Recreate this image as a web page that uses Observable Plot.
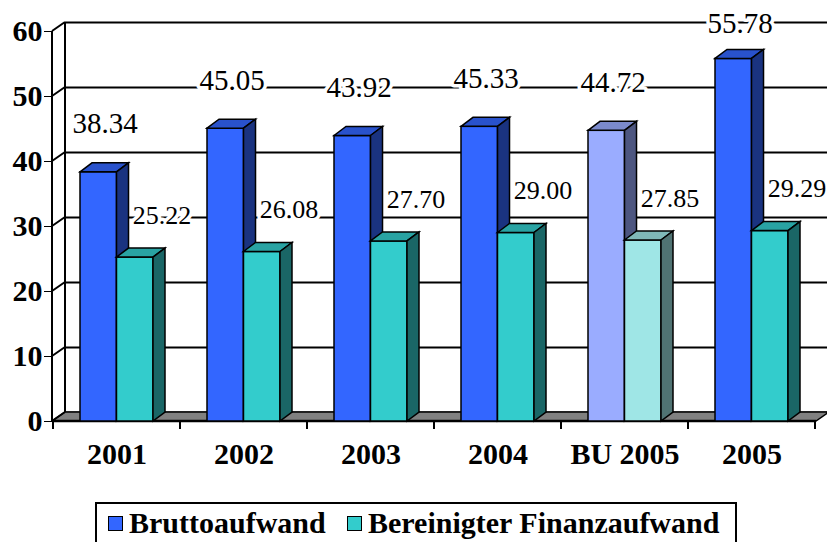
<!DOCTYPE html>
<html>
<head>
<meta charset="utf-8">
<script src="https://cdn.jsdelivr.net/npm/d3@7"></script>
<script src="https://cdn.jsdelivr.net/npm/@observablehq/plot@0.6"></script>
<style>
  html, body { margin: 0; padding: 0; background: #fff; }
  body { width: 827px; height: 542px; overflow: hidden; position: relative; font-family: "Liberation Serif", "DejaVu Serif", "Times New Roman", serif; }
  #chart { position: absolute; left: 0; top: 0; }
  #chart svg, #chart svg text { font-family: "Liberation Serif", "DejaVu Serif", "Times New Roman", serif !important; }
  #legend { position: absolute; left: 95px; top: 502px; width: 638px; height: 50px; border: 2px solid #000; background: #fff; box-sizing: content-box; }
  .sw { position: absolute; top: 12px; width: 13px; height: 13px; border: 1.5px solid #000; }
  .lt { position: absolute; top: 4px; font-weight: bold; font-size: 30px; line-height: 30px; white-space: nowrap; color: #000; font-family: "Liberation Serif", "DejaVu Serif", "Times New Roman", serif; }
</style>
</head>
<body>
<div id="chart"></div>
<div id="legend"></div>
<script>
// ---- data ----
const categories = ["2001", "2002", "2003", "2004", "BU 2005", "2005"];
const brutto     = [38.34, 45.05, 43.92, 45.33, 44.72, 55.78];
const bereinigt  = [25.22, 26.08, 27.70, 29.00, 27.85, 29.29];
const seriesNames = ["Bruttoaufwand", "Bereinigter Finanzaufwand"];
const yTicks = [0, 10, 20, 30, 40, 50, 60];
const budgetCategory = "BU 2005";

// ---- styling ----
const mainColors   = ["#3366ff", "#33cccc"];
const budgetColors = ["#9aacff", "#9fe6e6"];
const serif = "'Liberation Serif', 'DejaVu Serif', 'Times New Roman', serif";

const W = 827, H = 490;
const mL = 52, mR = 11, mT = 31, mB = 69;
const padInner = 0.427, padOuter = padInner / 2;
const step = (W - mL - mR) / categories.length;
const bw = step * (1 - padInner);
const depthX = 12, depthY = -9;      // bar depth
const wallX = 13, wallY = -9;        // wall depth

const rows = categories.map((c, i) => ({cat: c, brutto: brutto[i], bereinigt: bereinigt[i]}));

function shade(c, k) {
  const r = d3.rgb(c);
  return d3.rgb(r.r * k, r.g * k, r.b * k).formatHex();
}

const svgNS = "http://www.w3.org/2000/svg";
function poly(points, fill) {
  const p = document.createElementNS(svgNS, "polygon");
  p.setAttribute("points", points.map(d => d.join(",")).join(" "));
  p.setAttribute("fill", fill);
  return p;
}

function bar3d(index, scales, values, dimensions, context, next) {
  const g = next(index, scales, values, dimensions, context);
  for (const r of Array.from(g.querySelectorAll("rect"))) {
    const x = +r.getAttribute("x"), y = +r.getAttribute("y");
    const w = +r.getAttribute("width"), h = +r.getAttribute("height");
    const f = r.getAttribute("fill") || "#888";
    const top = poly([[x, y], [x + depthX, y + depthY], [x + w + depthX, y + depthY], [x + w, y]], shade(f, 0.8));
    const side = poly([[x + w, y], [x + w + depthX, y + depthY], [x + w + depthX, y + h + depthY], [x + w, y + h]], shade(f, 0.5));
    r.after(top, side);
  }
  return g;
}

function decor(index, scales, values, dimensions) {
  const {y, x} = scales;
  const g = d3.create("svg:g").attr("stroke", "black").attr("fill", "none");
  const y0 = y(0), yTop = y(yTicks[yTicks.length - 1]);
  const xL = dimensions.marginLeft, xR = dimensions.width - dimensions.marginRight;
  // floor
  g.append("polygon")
    .attr("points", [[xL, y0], [xR, y0], [xR + wallX, y0 + wallY], [xL + wallX, y0 + wallY]].map(d => d.join(",")).join(" "))
    .attr("fill", "#808080").attr("stroke-width", 1.5);
  // back wall left edge
  g.append("line").attr("x1", xL + wallX).attr("x2", xL + wallX)
    .attr("y1", y0 + wallY).attr("y2", yTop + wallY).attr("stroke-width", 2);
  // diagonal connectors
  for (const t of yTicks) {
    g.append("line").attr("x1", xL).attr("y1", y(t)).attr("x2", xL + wallX).attr("y2", y(t) + wallY).attr("stroke-width", 2);
  }
  // front axis
  g.append("line").attr("x1", xL).attr("x2", xL).attr("y1", y0 + 1).attr("y2", yTop).attr("stroke-width", 2);
  g.append("line").attr("x1", xL).attr("x2", xR).attr("y1", y0).attr("y2", y0).attr("stroke-width", 2.5);
  // category boundary ticks
  const stepPx = x(categories[1]) - x(categories[0]);
  const bwPx = x.bandwidth ? x.bandwidth() : bw;
  const bounds = categories.map(c => x(c) - (stepPx - bwPx) / 2);
  bounds.push(x(categories[categories.length - 1]) + bwPx + (stepPx - bwPx) / 2);
  for (const b of bounds) {
    g.append("line").attr("x1", b).attr("x2", b).attr("y1", y0).attr("y2", y0 + 8).attr("stroke-width", 2);
  }
  return g.node();
}

const fillFor = (k) => d => d.cat === budgetCategory ? budgetColors[k] : mainColors[k];

const chart = Plot.plot({
  width: W,
  height: H,
  marginLeft: mL,
  marginRight: mR,
  marginTop: mT,
  marginBottom: mB,
  style: {
    fontFamily: serif,
    fontSize: "30px",
    fontWeight: "bold",
    background: "white",
    color: "black",
    overflow: "visible"
  },
  x: {domain: categories, paddingInner: padInner, paddingOuter: padOuter, tickSize: 0, tickPadding: 21, label: null},
  y: {domain: [0, 60], ticks: yTicks, tickSize: 8, tickPadding: 2, tickFormat: d => String(d), label: null},
  color: {type: "identity"},
  marks: [
    Plot.ruleY(yTicks, {y: d => d, dx: wallX, dy: wallY, stroke: "black", strokeWidth: 2}),
    decor,
    Plot.barY(rows, {x: "cat", y: "brutto", fill: fillFor(0), stroke: "black", strokeWidth: 1.5, insetRight: bw / 2, render: bar3d}),
    Plot.barY(rows, {x: "cat", y: "bereinigt", fill: fillFor(1), stroke: "black", strokeWidth: 1.5, insetLeft: bw / 2, render: bar3d}),
    Plot.text(rows, {x: "cat", y: d => Math.min(d.brutto + 7.4, 61.2), text: d => d.brutto.toFixed(2), dx: -12,
      fontSize: 29, fontWeight: "normal", fontFamily: serif, fill: "black", stroke: "white", strokeWidth: 7, paintOrder: "stroke"}),
    Plot.text(rows, {x: "cat", y: d => d.bereinigt + 6.5, text: d => d.bereinigt.toFixed(2), dx: 45,
      fontSize: 26, fontWeight: "normal", fontFamily: serif, fill: "black", stroke: "white", strokeWidth: 7, paintOrder: "stroke"})
  ]
});
document.getElementById("chart").appendChild(chart);

// legend
const legend = document.getElementById("legend");
const legendPos = [{sw: 11, tx: 32}, {sw: 250, tx: 271}];
seriesNames.forEach((name, i) => {
  const sw = document.createElement("div");
  sw.className = "sw";
  sw.style.left = legendPos[i].sw + "px";
  sw.style.background = mainColors[i];
  legend.appendChild(sw);
  const t = document.createElement("div");
  t.className = "lt";
  t.style.left = legendPos[i].tx + "px";
  t.textContent = name;
  legend.appendChild(t);
});
</script>
</body>
</html>
